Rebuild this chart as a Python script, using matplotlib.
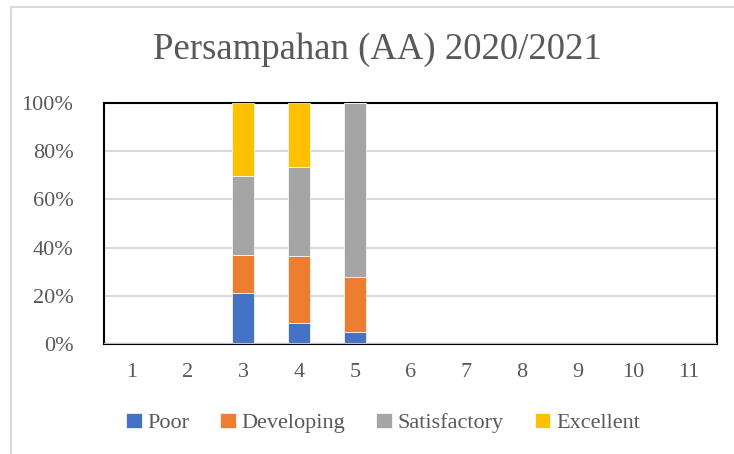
import numpy as np
import matplotlib.pyplot as plt
from matplotlib.patches import Rectangle

categories = [str(i) for i in range(1, 12)]
poor = [0, 0, 21.1, 8.6, 5.1, 0, 0, 0, 0, 0, 0]
developing = [0, 0, 15.7, 28.0, 22.8, 0, 0, 0, 0, 0, 0]
satisfactory = [0, 0, 33.1, 36.8, 72.1, 0, 0, 0, 0, 0, 0]
excellent = [0, 0, 30.1, 26.6, 0, 0, 0, 0, 0, 0, 0]

series = [("Poor", poor, "#4472C4"),
          ("Developing", developing, "#ED7D31"),
          ("Satisfactory", satisfactory, "#A5A5A5"),
          ("Excellent", excellent, "#FFC000")]

fam = ['Liberation Serif', 'DejaVu Serif']
plt.rcParams['font.family'] = fam
txt = "#595959"

fig = plt.figure(figsize=(7.34, 4.54), dpi=100)
ax = fig.add_axes([104/734, 1-344/454, 613/734, 241/454])

x = np.arange(len(categories))
bottom = np.zeros(len(categories))
for name, vals, col in series:
    vals = np.array(vals)
    ax.bar(x, vals, 0.4, bottom=bottom, color=col, edgecolor='white',
           linewidth=0.5, label=name, zorder=3)
    bottom += vals

ax.set_xlim(-0.5, len(categories)-0.5)
ax.set_ylim(0, 100)
ax.set_yticks(range(0, 101, 20))
ax.set_yticklabels([f"{v}%" for v in range(0, 101, 20)])
ax.set_xticks(x)
ax.set_xticklabels(categories)
ax.tick_params(length=0, labelsize=16, labelcolor=txt)
ax.tick_params(axis='y', pad=22)
ax.tick_params(axis='x', pad=14)
ax.grid(axis='y', color='#D9D9D9', lw=1.5, zorder=0)
for s in ax.spines.values():
    s.set_color('black')
    s.set_linewidth(1.5)
ax.axhline(0, color='#BFBFBF', lw=1.5, zorder=4)

fig.text(377/734, 1-50/454, "Persampahan (AA) 2020/2021", ha='center',
         va='center', fontsize=26.5, color=txt, family=fam)

fig.legend(loc='center', bbox_to_anchor=(383/734, 1-423/454), ncol=4,
           frameon=False, prop={'family': fam, 'size': 16}, labelcolor=txt,
           handlelength=0.7, handleheight=0.7, handletextpad=0.25,
           columnspacing=1.4)

fig.patches.append(Rectangle((11/734, -0.1), 1.0, 1-7/454+0.1,
                             transform=fig.transFigure, fill=False,
                             edgecolor='#D9D9D9', lw=1.5))

fig.savefig("out.png", dpi=100)
